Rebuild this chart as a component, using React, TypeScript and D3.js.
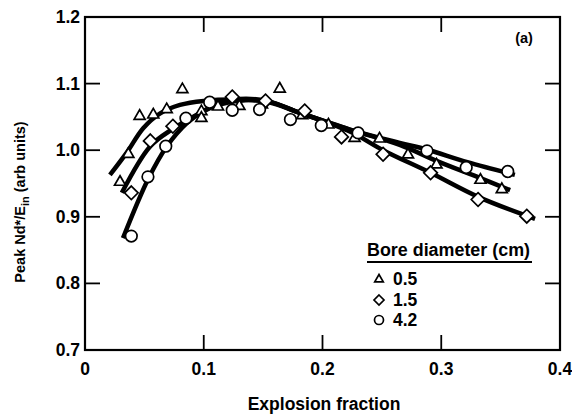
import React from "react";
import * as d3 from "d3";

const W = 572, H = 415;

const xTicks = [0, 0.1, 0.2, 0.3, 0.4];
const yTicks = [0.7, 0.8, 0.9, 1.0, 1.1, 1.2];
const xTickLabels = ["0", "0.1", "0.2", "0.3", "0.4"];
const yTickLabels = ["0.7", "0.8", "0.9", "1.0", "1.1", "1.2"];

const seriesNames = ["0.5", "1.5", "4.2"];

// measured points [explosion fraction, peak]
const triPts: [number, number][] = [
  [0.0295, 0.953], [0.0365, 0.995], [0.046, 1.052], [0.0575, 1.054], [0.0688, 1.062],
  [0.082, 1.092], [0.098, 1.059], [0.098, 1.049], [0.112, 1.066], [0.13, 1.067],
  [0.149, 1.069], [0.164, 1.093], [0.183, 1.053], [0.205, 1.039], [0.227, 1.019],
  [0.248, 1.018], [0.272, 0.994], [0.296, 0.979], [0.333, 0.956], [0.351, 0.942],
];
const diaPts: [number, number][] = [
  [0.039, 0.936], [0.055, 1.014], [0.074, 1.036], [0.124, 1.08], [0.152, 1.074],
  [0.185, 1.059], [0.216, 1.02], [0.251, 0.994], [0.291, 0.966], [0.331, 0.926],
  [0.372, 0.901],
];
const cirPts: [number, number][] = [
  [0.039, 0.871], [0.053, 0.96], [0.068, 1.006], [0.085, 1.048], [0.105, 1.072],
  [0.124, 1.06], [0.147, 1.061], [0.173, 1.046], [0.199, 1.037], [0.23, 1.026],
  [0.288, 0.999], [0.321, 0.974], [0.356, 0.968],
];

// fitted curves
const triFit: [number, number][] = [
  [0.021, 0.963], [0.035, 0.996], [0.049, 1.033], [0.063, 1.055], [0.08, 1.068],
  [0.1, 1.074], [0.13, 1.076], [0.155, 1.072], [0.181, 1.056], [0.223, 1.031],
  [0.265, 1.008], [0.296, 0.984], [0.333, 0.958], [0.358, 0.94],
];
const diaFit: [number, number][] = [
  [0.031, 0.936], [0.055, 1.006], [0.074, 1.032], [0.097, 1.056], [0.111, 1.069],
  [0.13, 1.077], [0.153, 1.074], [0.181, 1.056], [0.223, 1.028], [0.251, 1.0],
  [0.291, 0.966], [0.331, 0.93], [0.379, 0.897],
];
const cirFit: [number, number][] = [
  [0.032, 0.868], [0.053, 0.956], [0.069, 1.006], [0.086, 1.041], [0.1, 1.059],
  [0.114, 1.069], [0.135, 1.075], [0.155, 1.073], [0.181, 1.056], [0.223, 1.031],
  [0.265, 1.011], [0.288, 1.001], [0.322, 0.982], [0.362, 0.963],
];

const x = d3.scaleLinear().domain([0, 0.4]).range([85, 560]);
const y = d3.scaleLinear().domain([0.7, 1.2]).range([350, 17]);

const line = d3.line<[number, number]>()
  .x(d => x(d[0])).y(d => y(d[1]))
  .curve(d3.curveCatmullRom.alpha(0.5));

const FONT = "'Liberation Sans', Arial, Helvetica, sans-serif";

function Tri({ cx, cy, s = 5.8 }: { cx: number; cy: number; s?: number }) {
  const p = `M${cx},${cy - s} L${cx + s * 0.95},${cy + s * 0.65} L${cx - s * 0.95},${cy + s * 0.65} Z`;
  return <path d={p} fill="white" stroke="black" strokeWidth={1.7} />;
}
function Dia({ cx, cy, s = 6.8 }: { cx: number; cy: number; s?: number }) {
  const p = `M${cx},${cy - s} L${cx + s},${cy} L${cx},${cy + s} L${cx - s},${cy} Z`;
  return <path d={p} fill="white" stroke="black" strokeWidth={1.7} />;
}
function Cir({ cx, cy, r = 5.8 }: { cx: number; cy: number; r?: number }) {
  return <circle cx={cx} cy={cy} r={r} fill="white" stroke="black" strokeWidth={1.7} />;
}

export default function App() {
  const tick = 15;
  const fs = 17.5;
  return (
    <svg width={W} height={H} style={{ position: "absolute", left: 0, top: 0, background: "white" }}
      fontFamily={FONT} fontWeight="bold">
      <rect x={0} y={0} width={W} height={H} fill="white" />
      {/* frame */}
      <rect x={x(0)} y={y(1.2)} width={x(0.4) - x(0)} height={y(0.7) - y(1.2)}
        fill="none" stroke="black" strokeWidth={2.2} />
      {xTicks.slice(1, -1).map(t => (
        <g key={"xt" + t}>
          <line x1={x(t)} x2={x(t)} y1={y(0.7)} y2={y(0.7) - tick} stroke="black" strokeWidth={1.8} />
          <line x1={x(t)} x2={x(t)} y1={y(1.2)} y2={y(1.2) + tick} stroke="black" strokeWidth={1.8} />
        </g>
      ))}
      {yTicks.slice(1, -1).map(t => (
        <g key={"yt" + t}>
          <line x1={x(0)} x2={x(0) + tick} y1={y(t)} y2={y(t)} stroke="black" strokeWidth={1.8} />
          <line x1={x(0.4)} x2={x(0.4) - tick} y1={y(t)} y2={y(t)} stroke="black" strokeWidth={1.8} />
        </g>
      ))}
      {xTicks.map((t, i) => (
        <text key={"xl" + t} x={x(t)} y={375} textAnchor="middle" fontSize={fs}>{xTickLabels[i]}</text>
      ))}
      {yTicks.map((t, i) => (
        <text key={"yl" + t} x={80} y={y(t) + 6} textAnchor="end" fontSize={fs}>{yTickLabels[i]}</text>
      ))}
      <text x={324} y={410} textAnchor="middle" fontSize={fs}>Explosion fraction</text>
      <text transform={`translate(25,202) rotate(-90)`} textAnchor="middle" fontSize={14.5}>
        Peak Nd*/E<tspan fontSize={11} dy={4}>in</tspan><tspan dy={-4}>{"  (arb units)"}</tspan>
      </text>
      <text x={524} y={43} textAnchor="middle" fontSize={14.5}>(a)</text>

      {/* fitted curves */}
      {[triFit, diaFit, cirFit].map((f, i) => (
        <path key={"fit" + i} d={line(f) || ""} fill="none" stroke="black" strokeWidth={4.5} strokeLinecap="butt" />
      ))}

      {/* data points */}
      {triPts.map((d, i) => <Tri key={"t" + i} cx={x(d[0])} cy={y(d[1])} />)}
      {diaPts.map((d, i) => <Dia key={"d" + i} cx={x(d[0])} cy={y(d[1])} />)}
      {cirPts.map((d, i) => <Cir key={"c" + i} cx={x(d[0])} cy={y(d[1])} />)}

      {/* legend */}
      <text x={367} y={256} fontSize={fs} textLength={163} lengthAdjust="spacingAndGlyphs">Bore diameter (cm)</text>
      <line x1={367} x2={532} y1={262} y2={262} stroke="black" strokeWidth={1.8} />
      <Tri cx={379} cy={279} s={4.5} />
      <text x={393} y={285} fontSize={fs}>{seriesNames[0]}</text>
      <Dia cx={379} cy={300} s={5} />
      <text x={393} y={306} fontSize={fs}>{seriesNames[1]}</text>
      <Cir cx={379} cy={320} r={4.5} />
      <text x={393} y={326} fontSize={fs}>{seriesNames[2]}</text>
    </svg>
  );
}
